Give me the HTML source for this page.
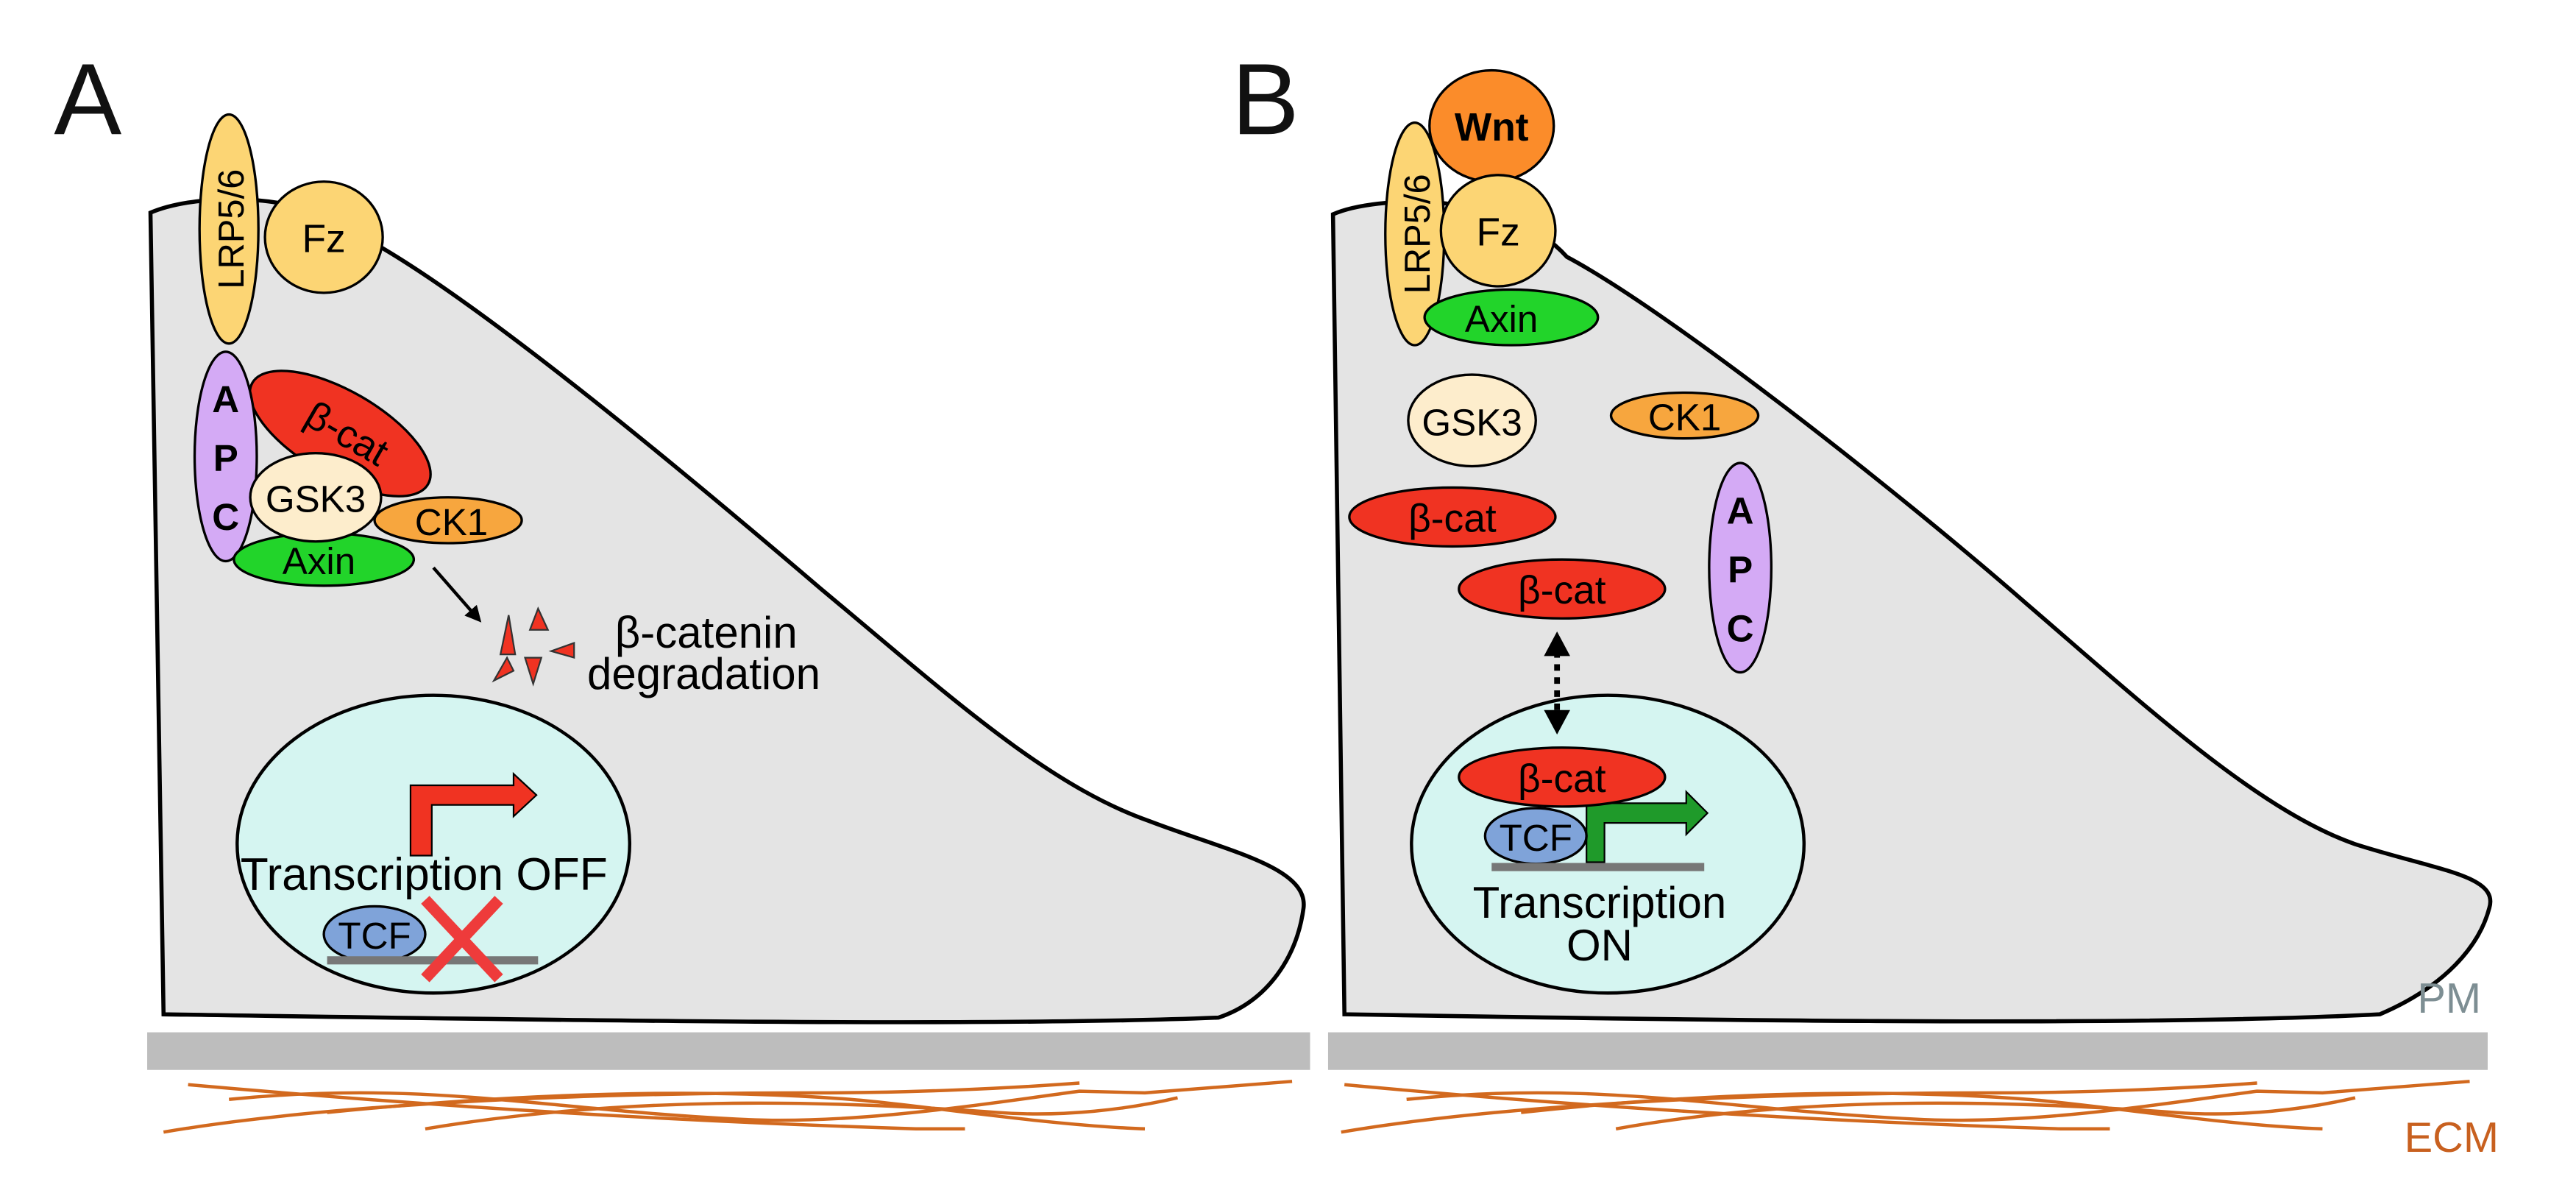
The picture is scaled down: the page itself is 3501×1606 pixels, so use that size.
<!DOCTYPE html>
<html><head><meta charset="utf-8"><style>html,body{margin:0;padding:0;background:#fff}svg{display:block}</style></head>
<body>
<svg width="3501" height="1606" viewBox="0 0 1575 722.5" preserveAspectRatio="none" xmlns="http://www.w3.org/2000/svg" font-family="Liberation Sans, Arial, sans-serif">
<defs>
<marker id="ah" markerWidth="10" markerHeight="10" refX="8" refY="5" orient="auto" markerUnits="userSpaceOnUse"><path d="M0,0 L10,5 L0,10 z" fill="#000"/></marker>
</defs>
<rect width="1575" height="722.5" fill="#fff"/>
<text x="33" y="82" font-size="62" fill="#111">A</text>
<text x="753" y="82" font-size="62" fill="#111">B</text>

<rect x="90" y="631" width="711" height="23" fill="#bdbdbd"/>
<rect x="812" y="631" width="709" height="23" fill="#bdbdbd"/>

<g stroke="#d2691e" stroke-width="2" fill="none">
<path d="M115,663 C250,675 400,685 560,690 L590,690"/>
<path d="M100,692 C200,675 350,668 500,668 C560,668 620,665 660,662"/>
<path d="M260,690 C380,670 500,672 610,680 C650,683 690,678 720,671"/>
<path d="M140,672 C260,660 330,678 450,684 C520,688 600,675 660,667 L700,668 L790,661"/>
<path d="M200,680 C320,668 430,665 520,672 C560,675 640,688 700,690"/>
<path d="M822,663 C950,675 1100,685 1260,690 L1290,690"/>
<path d="M820,692 C920,675 1070,668 1220,668 C1280,668 1340,665 1380,662"/>
<path d="M988,690 C1100,670 1220,672 1330,680 C1370,683 1410,678 1440,671"/>
<path d="M860,672 C980,660 1050,678 1170,684 C1240,688 1320,675 1380,667 L1420,668 L1510,661"/>
<path d="M930,680 C1040,668 1150,665 1240,672 C1280,675 1360,688 1420,690"/>
</g>
<text x="1470" y="704" font-size="26" fill="#c8601f">ECM</text>

<path d="M92,130 C120,118 190,115 231,150 C300,190 420,290 502,360 C580,425 640,480 703,502 C750,520 800,530 797,555 C793,585 775,612 745,622 C600,628 300,623 100,620 Z" fill="#e4e4e4" stroke="#000" stroke-width="2.5"/>
<path d="M815,131 C840,120 920,115 958,157 C1020,190 1160,300 1239,369 C1310,430 1380,495 1440,516 C1490,532 1528,535 1522,555 C1516,578 1495,603 1455,620 C1300,628 1000,623 822,620 Z" fill="#e4e4e4" stroke="#000" stroke-width="2.5"/>
<text x="1478" y="619" font-size="26" fill="#7d8e93">PM</text>

<ellipse cx="140" cy="140" rx="18" ry="70" fill="#fcd574" stroke="#000" stroke-width="1.5"/>
<text transform="translate(149,140) rotate(-90)" text-anchor="middle" font-size="22" fill="#000">LRP5/6</text>
<ellipse cx="198" cy="145" rx="36" ry="34" fill="#fcd574" stroke="#000" stroke-width="1.5"/>
<text x="198" y="154" text-anchor="middle" font-size="24">Fz</text>

<ellipse cx="208" cy="265" rx="62" ry="26" transform="rotate(30 208 265)" fill="#f03322" stroke="#000" stroke-width="1.5"/>
<text transform="translate(208,272) rotate(30)" text-anchor="middle" font-size="24">β-cat</text>
<ellipse cx="138" cy="279" rx="19" ry="64" fill="#d4aaf5" stroke="#000" stroke-width="1.5"/>
<text x="138" y="252" text-anchor="middle" font-size="23" font-weight="bold">A</text>
<text x="138" y="288" text-anchor="middle" font-size="23" font-weight="bold">P</text>
<text x="138" y="324" text-anchor="middle" font-size="23" font-weight="bold">C</text>
<ellipse cx="198" cy="342" rx="55" ry="16" fill="#22d42a" stroke="#000" stroke-width="1.5"/>
<text x="195" y="351" text-anchor="middle" font-size="23">Axin</text>
<ellipse cx="274" cy="318" rx="45" ry="14" fill="#f7a63e" stroke="#000" stroke-width="1.5"/>
<text x="276" y="327" text-anchor="middle" font-size="23">CK1</text>
<ellipse cx="193" cy="304" rx="40" ry="27" fill="#fdedcc" stroke="#000" stroke-width="1.5"/>
<text x="193" y="313" text-anchor="middle" font-size="23">GSK3</text>

<line x1="265" y1="347" x2="293" y2="379" stroke="#000" stroke-width="2" marker-end="url(#ah)"/>
<g fill="#f03322" stroke="#333" stroke-width="1">
<path d="M306,400 L311,376 L315,400 Z"/>
<path d="M324,385 L329,372 L335,385 Z"/>
<path d="M337,398 L351,393 L351,402 Z"/>
<path d="M302,416 L310,402 L314,410 Z"/>
<path d="M321,402 L331,402 L326,418 Z"/>
</g>
<text x="376" y="396" font-size="27">β-catenin</text>
<text x="359" y="421" font-size="27">degradation</text>

<ellipse cx="265" cy="516" rx="120" ry="91" fill="#d5f5f1" stroke="#000" stroke-width="2"/>
<path d="M251,523 L251,480 L314,480 L314,473 L328,486 L314,499 L314,492 L264,492 L264,523 Z" fill="#f03322" stroke="#000" stroke-width="1"/>
<text x="147" y="544" font-size="28">Transcription OFF</text>
<ellipse cx="229" cy="571" rx="31" ry="17" fill="#7fa3d9" stroke="#000" stroke-width="1.5"/>
<text x="229" y="580" text-anchor="middle" font-size="23">TCF</text>
<line x1="200" y1="587" x2="329" y2="587" stroke="#777" stroke-width="5"/>
<g stroke="#ee3b3b" stroke-width="7"><line x1="260" y1="550" x2="305" y2="598"/><line x1="305" y1="550" x2="260" y2="598"/></g>

<ellipse cx="865" cy="143" rx="18" ry="68" fill="#fcd574" stroke="#000" stroke-width="1.5"/>
<text transform="translate(874,143) rotate(-90)" text-anchor="middle" font-size="22">LRP5/6</text>
<ellipse cx="912" cy="77" rx="38" ry="34" fill="#fb8c2a" stroke="#000" stroke-width="1.5"/>
<text x="912" y="86" text-anchor="middle" font-size="24" font-weight="bold">Wnt</text>
<ellipse cx="916" cy="141" rx="35" ry="34" fill="#fcd574" stroke="#000" stroke-width="1.5"/>
<text x="916" y="150" text-anchor="middle" font-size="24">Fz</text>
<ellipse cx="924" cy="194" rx="53" ry="17" fill="#22d42a" stroke="#000" stroke-width="1.5"/>
<text x="918" y="203" text-anchor="middle" font-size="23">Axin</text>

<ellipse cx="900" cy="257" rx="39" ry="28" fill="#fdedcc" stroke="#000" stroke-width="1.5"/>
<text x="900" y="266" text-anchor="middle" font-size="23">GSK3</text>
<ellipse cx="1030" cy="254" rx="45" ry="14" fill="#f7a63e" stroke="#000" stroke-width="1.5"/>
<text x="1030" y="263" text-anchor="middle" font-size="23">CK1</text>
<ellipse cx="888" cy="316" rx="63" ry="18" fill="#f03322" stroke="#000" stroke-width="1.5"/>
<text x="888" y="325" text-anchor="middle" font-size="24">β-cat</text>
<ellipse cx="955" cy="360" rx="63" ry="18" fill="#f03322" stroke="#000" stroke-width="1.5"/>
<text x="955" y="369" text-anchor="middle" font-size="24">β-cat</text>
<ellipse cx="1064" cy="347" rx="19" ry="64" fill="#d4aaf5" stroke="#000" stroke-width="1.5"/>
<text x="1064" y="320" text-anchor="middle" font-size="23" font-weight="bold">A</text>
<text x="1064" y="356" text-anchor="middle" font-size="23" font-weight="bold">P</text>
<text x="1064" y="392" text-anchor="middle" font-size="23" font-weight="bold">C</text>

<ellipse cx="983" cy="516" rx="120" ry="91" fill="#d5f5f1" stroke="#000" stroke-width="2"/>
<path d="M970,527 L970,491 L1031,491 L1031,484 L1044,497 L1031,510 L1031,503 L981,503 L981,527 Z" fill="#1f9a2a" stroke="#000" stroke-width="1"/>
<ellipse cx="955" cy="475" rx="63" ry="18" fill="#f03322" stroke="#000" stroke-width="1.5"/>
<text x="955" y="484" text-anchor="middle" font-size="24">β-cat</text>
<ellipse cx="939" cy="511" rx="31" ry="17" fill="#7fa3d9" stroke="#000" stroke-width="1.5"/>
<text x="939" y="520" text-anchor="middle" font-size="23">TCF</text>
<line x1="912" y1="530" x2="1042" y2="530" stroke="#777" stroke-width="5"/>
<text x="978" y="561" text-anchor="middle" font-size="27">Transcription</text>
<text x="978" y="587" text-anchor="middle" font-size="27">ON</text>

<line x1="952" y1="398" x2="952" y2="436" stroke="#000" stroke-width="3.5" stroke-dasharray="4,4"/>
<path d="M944,401 L952,386 L960,401 Z" fill="#000"/>
<path d="M944,434 L952,449 L960,434 Z" fill="#000"/>
</svg>
</body></html>
